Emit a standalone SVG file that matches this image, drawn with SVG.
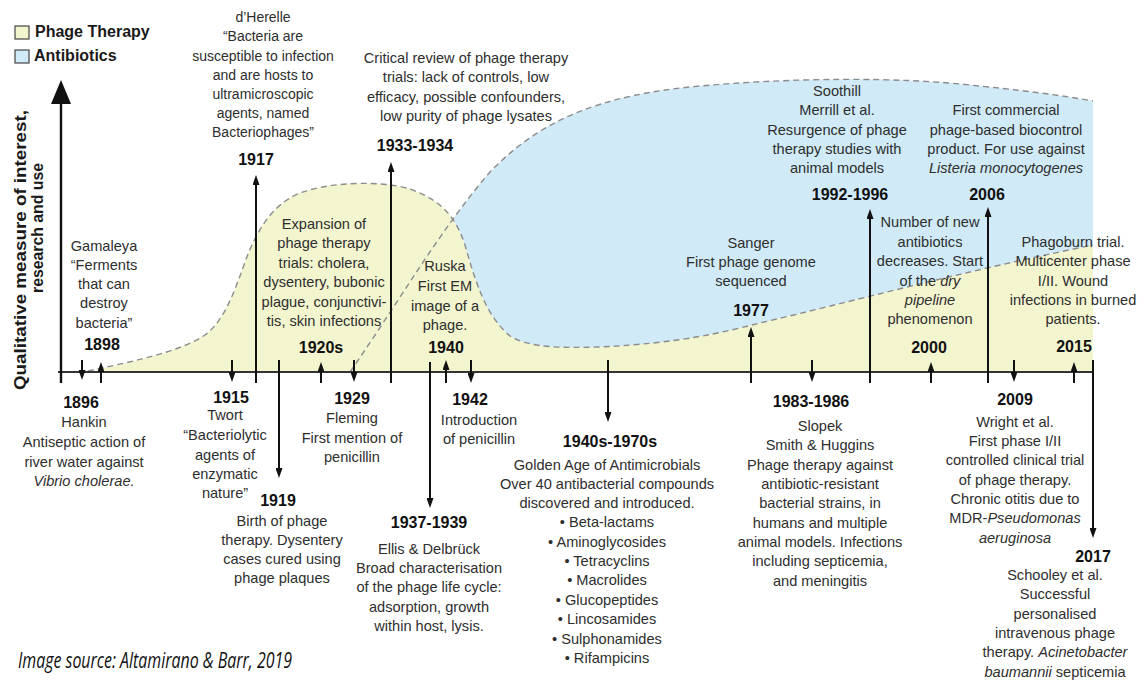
<svg xmlns="http://www.w3.org/2000/svg" width="1144" height="682" viewBox="0 0 1144 682">
<style>
.t{font-family:"Liberation Sans",Arial,sans-serif;font-size:14.6px;fill:#2e2e2e;text-anchor:middle}
.s{font-size:14px}
.y{font-family:"Liberation Sans",Arial,sans-serif;font-size:16px;font-weight:bold;fill:#111;text-anchor:middle}
.i{font-style:italic}
.lg{font-family:"Liberation Sans",Arial,sans-serif;font-size:16px;font-weight:bold;fill:#1a1a1a}
.ar{stroke:#111;stroke-width:2;fill:none;marker-end:url(#ah)}
.dash{fill:none;stroke:#8c8c8c;stroke-width:1.4;stroke-dasharray:6 4}
.yel{fill:#f3f5cf}
.blu{fill:#d0eaf7}
</style>
<defs>
<marker id="ah" viewBox="0 0 10 7" refX="7" refY="3.5" markerWidth="10" markerHeight="7" markerUnits="userSpaceOnUse" orient="auto"><path d="M0,0 L10,3.5 L0,7 Z" fill="#111"/></marker>
</defs>
<rect width="1144" height="682" fill="#fff"/>

<g id="areas">
<path id="phage-area" class="yel" d="M88,372 C130,362 180,352 205,335 C225,320 235,290 245,262 C255,235 270,205 300,193 C330,182 380,180 410,189 C440,200 455,215 465,245 C475,280 485,315 510,336 C530,348 560,348 600,347 C680,343 720,333 760,323 C850,302 960,272 1093,245 L1093,372 Z"/>
</g>

<g id="e1940-text">
<text class="t"><tspan x="445" y="271">Ruska</tspan><tspan x="445" y="291">First EM</tspan><tspan x="445" y="311">image of a</tspan><tspan x="445" y="330">phage.</tspan></text>
</g>

<g id="areas2">
<path id="antibiotic-area" class="blu" d="M452.7,219.5 C464.7,203 477,187.1 490,172 C540,120 600,95 700,86 C800,77 900,78 960,84 C1020,90 1060,95 1093,101 L1093,245 C960,272 850,302 760,323 C720,333 680,343 600,347 C560,348 530,348 510,336 C485,315 475,280 465,245 C462,236 458.6,228.4 454.4,221.8 Z"/>
<path class="dash" d="M88,371 C130,362 180,352 205,335 C225,320 235,290 245,262 C255,235 270,205 300,193 C330,182 380,180 410,189 C440,200 455,215 465,245 C475,280 485,315 510,336 C530,348 560,348 600,347 C680,343 720,333 760,323 C850,302 960,272 1093,245"/>
<path class="dash" d="M350,372 C400,300 440,230 490,172 C540,120 600,95 700,86 C800,77 900,78 960,84 C1020,90 1060,95 1093,101"/>
</g>

<g id="legend">
<rect x="15" y="26" width="14" height="13" class="yel" stroke="#444" stroke-width="1.2"/>
<text class="lg" x="35" y="37">Phage Therapy</text>
<rect x="15" y="50" width="14" height="13" class="blu" stroke="#444" stroke-width="1.2"/>
<text class="lg" x="34" y="61">Antibiotics</text>
</g>

<g id="y-axis-label">
<text class="lg" style="font-size:17px;text-anchor:middle" transform="translate(26,250) rotate(-90)" textLength="280" lengthAdjust="spacingAndGlyphs">Qualitative measure of interest,</text>
<text class="lg" style="font-size:17px;text-anchor:middle" transform="translate(43,228) rotate(-90)" textLength="130" lengthAdjust="spacingAndGlyphs">research and use</text>
</g>

<g id="connectors">
<line x1="58" y1="372" x2="1093" y2="372" stroke="#333" stroke-width="2"/>
<line x1="61" y1="383" x2="61" y2="100" stroke="#111" stroke-width="2.4"/>
<path d="M61,80 L71,104 L51,104 Z" fill="#111"/>
<path class="ar" d="M82,360 V377"/>
<path class="ar" d="M101,383 V365"/>
<path class="ar" d="M232,360 V379"/>
<path class="ar" d="M256,383 V178"/>
<path class="ar" d="M279,360 V475"/>
<path class="ar" d="M321,383 V365"/>
<path class="ar" d="M354,360 V379"/>
<path class="ar" d="M391,383 V165"/>
<path class="ar" d="M430,362 V505"/>
<path class="ar" d="M446,383 V363"/>
<path class="ar" d="M471,360 V380"/>
<path class="ar" d="M608,360 V419"/>
<path class="ar" d="M751,383 V330"/>
<path class="ar" d="M812,360 V379"/>
<path class="ar" d="M870,383 V212"/>
<path class="ar" d="M931,383 V365"/>
<path class="ar" d="M988,383 V210"/>
<path class="ar" d="M1014,360 V379"/>
<path class="ar" d="M1074,383 V365"/>
<path class="ar" d="M1093,360 V535"/>
</g>

<g id="e1896">
<text class="y" x="81" y="408">1896</text>
<text class="t"><tspan x="84" y="427">Hankin</tspan><tspan x="84" y="447">Antiseptic action of</tspan><tspan x="84" y="467">river water against</tspan><tspan x="84" y="486" class="i">Vibrio cholerae.</tspan></text>
</g>
<g id="e1898">
<text class="t"><tspan x="104" y="251">Gamaleya</tspan><tspan x="104" y="270">“Ferments</tspan><tspan x="104" y="289">that can</tspan><tspan x="104" y="308">destroy</tspan><tspan x="104" y="328">bacteria”</tspan></text>
<text class="y" x="102" y="350">1898</text>
</g>
<g id="e1915">
<text class="y" x="231" y="403">1915</text>
<text class="t"><tspan x="225" y="420">Twort</tspan><tspan x="225" y="440">“Bacteriolytic</tspan><tspan x="225" y="460">agents of</tspan><tspan x="225" y="479">enzymatic</tspan><tspan x="225" y="498">nature”</tspan></text>
</g>
<g id="e1917">
<text class="t s"><tspan x="263" y="22">d’Herelle</tspan><tspan x="263" y="41">“Bacteria are</tspan><tspan x="263" y="61">susceptible to infection</tspan><tspan x="263" y="80">and are hosts to</tspan><tspan x="263" y="99">ultramicroscopic</tspan><tspan x="263" y="118">agents, named</tspan><tspan x="263" y="137">Bacteriophages”</tspan></text>
<text class="y" x="256" y="165">1917</text>
</g>
<g id="e1919">
<text class="y" x="278" y="506">1919</text>
<text class="t"><tspan x="282" y="526">Birth of phage</tspan><tspan x="282" y="545">therapy. Dysentery</tspan><tspan x="282" y="564">cases cured using</tspan><tspan x="282" y="583">phage plaques</tspan></text>
</g>
<g id="e1920s">
<text class="t"><tspan x="324" y="229">Expansion of</tspan><tspan x="324" y="248">phage therapy</tspan><tspan x="324" y="268">trials: cholera,</tspan><tspan x="324" y="287">dysentery, bubonic</tspan><tspan x="324" y="307">plague, conjunctivi-</tspan><tspan x="324" y="326">tis, skin infections</tspan></text>
<text class="y" x="321" y="353">1920s</text>
</g>
<g id="e1929">
<text class="y" x="352" y="404">1929</text>
<text class="t"><tspan x="352" y="423">Fleming</tspan><tspan x="352" y="443">First mention of</tspan><tspan x="352" y="462">penicillin</tspan></text>
</g>
<g id="e1933">
<text class="t"><tspan x="466" y="63">Critical review of phage therapy</tspan><tspan x="466" y="82">trials: lack of controls, low</tspan><tspan x="466" y="102">efficacy, possible confounders,</tspan><tspan x="466" y="121">low purity of phage lysates</tspan></text>
<text class="y" x="415" y="151">1933-1934</text>
</g>
<g id="e1937">
<text class="y" x="429" y="528">1937-1939</text>
<text class="t"><tspan x="429" y="554">Ellis &amp; Delbrück</tspan><tspan x="429" y="573">Broad characterisation</tspan><tspan x="429" y="592">of the phage life cycle:</tspan><tspan x="429" y="612">adsorption, growth</tspan><tspan x="429" y="631">within host, lysis.</tspan></text>
</g>
<g id="e1940">
<text class="y" x="446" y="353">1940</text>
</g>
<g id="e1942">
<text class="y" x="470" y="405">1942</text>
<text class="t"><tspan x="479" y="425">Introduction</tspan><tspan x="479" y="444">of penicillin</tspan></text>
</g>
<g id="e1940s">
<text class="y" x="610" y="447">1940s-1970s</text>
<text class="t"><tspan x="607" y="470">Golden Age of Antimicrobials</tspan><tspan x="607" y="489">Over 40 antibacterial compounds</tspan><tspan x="607" y="508">discovered and introduced.</tspan><tspan x="607" y="527">• Beta-lactams</tspan><tspan x="607" y="547">• Aminoglycosides</tspan><tspan x="607" y="566">• Tetracyclins</tspan><tspan x="607" y="585">• Macrolides</tspan><tspan x="607" y="605">• Glucopeptides</tspan><tspan x="607" y="624">• Lincosamides</tspan><tspan x="607" y="644">• Sulphonamides</tspan><tspan x="607" y="663">• Rifampicins</tspan></text>
</g>
<g id="e1977">
<text class="t"><tspan x="751" y="248">Sanger</tspan><tspan x="751" y="267">First phage genome</tspan><tspan x="751" y="286">sequenced</tspan></text>
<text class="y" x="751" y="316">1977</text>
</g>
<g id="e1983">
<text class="y" x="811" y="407">1983-1986</text>
<text class="t"><tspan x="820" y="431">Slopek</tspan><tspan x="820" y="450">Smith &amp; Huggins</tspan><tspan x="820" y="470">Phage therapy against</tspan><tspan x="820" y="489">antibiotic-resistant</tspan><tspan x="820" y="508">bacterial strains, in</tspan><tspan x="820" y="528">humans and multiple</tspan><tspan x="820" y="547">animal models. Infections</tspan><tspan x="820" y="566">including septicemia,</tspan><tspan x="820" y="586">and meningitis</tspan></text>
</g>
<g id="e1992">
<text class="t"><tspan x="837" y="96">Soothill</tspan><tspan x="837" y="115">Merrill et al.</tspan><tspan x="837" y="135">Resurgence of phage</tspan><tspan x="837" y="154">therapy studies with</tspan><tspan x="837" y="173">animal models</tspan></text>
<text class="y" x="850" y="200">1992-1996</text>
</g>
<g id="e2000">
<text class="t"><tspan x="930" y="227">Number of new</tspan><tspan x="930" y="247">antibiotics</tspan><tspan x="930" y="266">decreases. Start</tspan><tspan x="930" y="286">of the <tspan class="i">dry</tspan></tspan><tspan x="930" y="305" class="i">pipeline</tspan><tspan x="930" y="324">phenomenon</tspan></text>
<text class="y" x="929" y="353">2000</text>
</g>
<g id="e2006">
<text class="t"><tspan x="1006" y="115">First commercial</tspan><tspan x="1006" y="135">phage-based biocontrol</tspan><tspan x="1006" y="154">product. For use against</tspan><tspan x="1006" y="173" class="i">Listeria monocytogenes</tspan></text>
<text class="y" x="987" y="200">2006</text>
</g>
<g id="e2009">
<text class="y" x="1015" y="405">2009</text>
<text class="t"><tspan x="1015" y="427">Wright et al.</tspan><tspan x="1015" y="446">First phase I/II</tspan><tspan x="1015" y="465">controlled clinical trial</tspan><tspan x="1015" y="485">of phage therapy.</tspan><tspan x="1015" y="504">Chronic otitis due to</tspan><tspan x="1015" y="523">MDR-<tspan class="i">Pseudomonas</tspan></tspan><tspan x="1015" y="543" class="i">aeruginosa</tspan></text>
</g>
<g id="e2015">
<text class="t"><tspan x="1073" y="247">Phagoburn trial.</tspan><tspan x="1073" y="266">Multicenter phase</tspan><tspan x="1073" y="286">I/II. Wound</tspan><tspan x="1073" y="305">infections in burned</tspan><tspan x="1073" y="324">patients.</tspan></text>
<text class="y" x="1074" y="352">2015</text>
</g>
<g id="e2017">
<text class="y" x="1093" y="562">2017</text>
<text class="t"><tspan x="1055" y="580">Schooley et al.</tspan><tspan x="1055" y="599">Successful</tspan><tspan x="1055" y="619">personalised</tspan><tspan x="1055" y="638">intravenous phage</tspan><tspan x="1055" y="657">therapy. <tspan class="i">Acinetobacter</tspan></tspan><tspan x="1055" y="677"><tspan class="i">baumannii</tspan> septicemia</tspan></text>
</g>

<g id="source">
<text x="18" y="668" style="font-family:'Open Sans','Liberation Sans',sans-serif;font-size:21px;font-style:italic;fill:#111" textLength="274" lengthAdjust="spacingAndGlyphs">Image source: Altamirano &amp; Barr, 2019</text>
</g>
</svg>
